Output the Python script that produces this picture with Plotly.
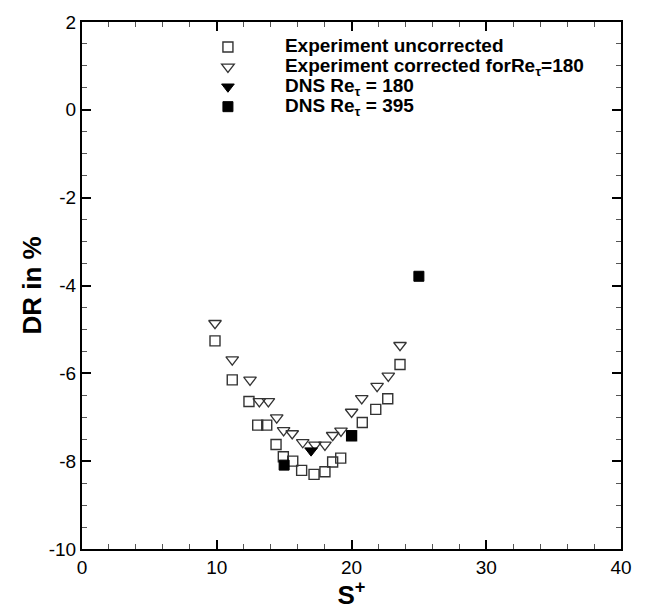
import plotly.graph_objects as go

# Experiment uncorrected (hollow squares)
unc_x = [9.87, 11.15, 12.39, 13.04, 13.71, 14.40, 14.94, 15.64, 16.30, 17.22, 18.03, 18.60, 19.20, 20.01, 20.80, 21.80, 22.69, 23.60]
unc_y = [-5.26, -6.15, -6.64, -7.18, -7.18, -7.62, -7.90, -8.00, -8.21, -8.30, -8.24, -8.02, -7.93, -7.42, -7.12, -6.82, -6.58, -5.80]

# Experiment corrected for Re_tau=180 (hollow down-triangles)
cor_x = [9.87, 11.15, 12.47, 13.16, 13.83, 14.45, 14.96, 15.60, 16.38, 17.29, 18.03, 18.60, 19.22, 20.01, 20.76, 21.90, 22.73, 23.60]
cor_y = [-4.86, -5.69, -6.15, -6.64, -6.64, -7.01, -7.30, -7.37, -7.57, -7.63, -7.63, -7.41, -7.31, -6.88, -6.57, -6.29, -6.06, -5.36]

# DNS
dns180_x = [17.0]
dns180_y = [-7.76]
dns395_x = [15.0, 20.0, 25.0]
dns395_y = [-8.09, -7.42, -3.79]

series_names = [
    "Experiment uncorrected",
    "Experiment corrected forRe<sub>τ</sub>=180",
    "DNS Re<sub>τ</sub> = 180",
    "DNS Re<sub>τ</sub> = 395",
]

x_ticks = [0, 10, 20, 30, 40]
y_ticks = [2, 0, -2, -4, -6, -8, -10]

FONT = "Liberation Sans, Arial, Helvetica, sans-serif"
EDGE = "#333333"


def legend_label(s):
    return '<span style="font-size:19px">' + s + "</span>"


fig = go.Figure()
fig.add_trace(go.Scatter(
    x=unc_x, y=unc_y, mode="markers", name=legend_label(series_names[0]),
    marker=dict(symbol="square-open", size=10, color=EDGE, line=dict(width=1.4, color=EDGE))))
fig.add_trace(go.Scatter(
    x=cor_x, y=cor_y, mode="markers", name=legend_label(series_names[1]),
    marker=dict(symbol="triangle-down-open", size=11, color=EDGE, line=dict(width=1.3, color=EDGE))))
fig.add_trace(go.Scatter(
    x=dns180_x, y=dns180_y, mode="markers", name=legend_label(series_names[2]),
    marker=dict(symbol="triangle-down", size=11, color="black", line=dict(width=1, color="black"))))
fig.add_trace(go.Scatter(
    x=dns395_x, y=dns395_y, mode="markers", name=legend_label(series_names[3]),
    marker=dict(symbol="square", size=10, color="black", line=dict(width=1, color="black"))))

axis_common = dict(
    showgrid=False, zeroline=False, showline=True, linecolor="black", linewidth=2,
    mirror="allticks", ticks="inside", ticklen=9, tickwidth=2, tickcolor="black",
    tickfont=dict(family=FONT, size=19, color="black"),
)

fig.update_xaxes(
    range=[0, 40], tickvals=x_ticks, ticktext=[str(v) for v in x_ticks],
    minor=dict(dtick=2, ticks="inside", ticklen=5, tickwidth=1, tickcolor="#555555"),
    title=dict(text="<b>S<sup>+</sup></b>", font=dict(family=FONT, size=26, color="black"), standoff=2),
    **axis_common)
fig.update_yaxes(
    range=[-10, 2], tickvals=y_ticks, ticktext=[str(v) for v in y_ticks],
    minor=dict(dtick=0.5, ticks="inside", ticklen=5, tickwidth=1, tickcolor="#555555"),
    title=dict(text="<b>DR in %</b>", font=dict(family=FONT, size=26, color="black"), standoff=0),
    **axis_common)

fig.update_layout(
    width=648, height=610,
    margin=dict(l=82, r=27, t=14, b=61),
    plot_bgcolor="white", paper_bgcolor="white",
    font=dict(family=FONT, color="black"),
    legend=dict(
        x=0.165, y=0.981, xanchor="left", yanchor="top",
        bgcolor="rgba(0,0,0,0)", borderwidth=0,
        itemwidth=104, tracegroupgap=0,
        font=dict(family=FONT, size=13, color="black", weight="bold"),
    ),
)

fig.write_html("out.html")
